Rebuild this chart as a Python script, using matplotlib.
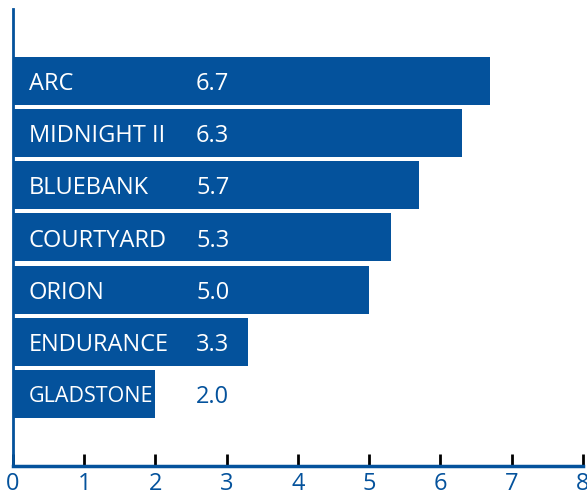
import numpy as np
import matplotlib
matplotlib.use("Agg")
import matplotlib.pyplot as plt

plt.rcParams["font.family"] = ["Open Sans", "DejaVu Sans"]

# dados
names = ["ARC", "MIDNIGHT II", "BLUEBANK", "COURTYARD", "ORION", "ENDURANCE", "GLADSTONE"]
values = [6.7, 6.3, 5.7, 5.3, 5.0, 3.3, 2.0]
value_labels = ["6.7", "6.3", "5.7", "5.3", "5.0", "3.3", "2.0"]
xticks = [0, 1, 2, 3, 4, 5, 6, 7, 8]

blue = "#04529c"
dark = "#222222"

fig = plt.figure(figsize=(5.87, 4.96), dpi=100)
ax = fig.add_axes([0.022, 0.0605, 0.971, 0.9215])

pos = np.arange(len(names))
ax.barh(pos, values, height=0.92, color=blue)

for i, (nm, v, lab) in enumerate(zip(names, values, value_labels)):
    fs = 15.5 if nm == "GLADSTONE" else 17
    ax.text(0.22, i + 0.06, nm, color="white", fontsize=fs, va="center", ha="left")
    col = "white" if v > 2.8 else blue
    ax.text(2.57, i + 0.06, lab, color=col, fontsize=17, va="center", ha="left")

ax.set_xlim(0, 8)
ax.set_ylim(len(names) - 1 + 1.385, -1.385)
ax.set_yticks([])
ax.set_xticks(xticks)
ax.set_xticklabels([str(t) for t in xticks], fontsize=17, color=blue)
ax.tick_params(axis="x", direction="in", length=9, width=2, pad=4)
for t, tl in zip(ax.xaxis.get_major_ticks(), xticks):
    t.tick1line.set_color(blue if tl < 3 else dark)

for s in ["top", "right"]:
    ax.spines[s].set_visible(False)
ax.spines["left"].set_color(blue)
ax.spines["bottom"].set_color(blue)
ax.spines["left"].set_linewidth(2)
ax.spines["bottom"].set_linewidth(2.5)

fig.savefig("out.png", dpi=100)
